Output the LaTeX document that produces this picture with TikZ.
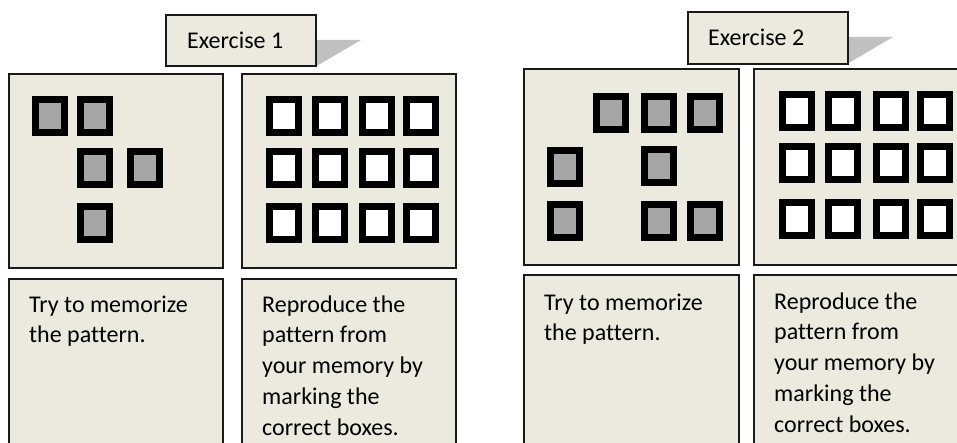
\documentclass[tikz,border=0pt]{standalone}
\usepackage{fontspec}
\setmainfont[Ligatures=NoCommon]{Carlito}
\definecolor{panelbg}{HTML}{ECE9DF}
\definecolor{cellgray}{HTML}{A6A6A6}
\definecolor{shadowgray}{HTML}{C0C0C0}
\definecolor{edge}{HTML}{1A1A1A}
\tikzset{
  panel/.style={draw=edge, line width=1.6pt, fill=panelbg, anchor=north west, inner sep=0pt},
  cellfull/.style={draw=black, line width=7pt, fill=cellgray, minimum width=29pt, minimum height=33pt, inner sep=0pt},
  cellempty/.style={draw=black, line width=7pt, fill=white, minimum width=29pt, minimum height=33pt, inner sep=0pt},
  bodytext/.style={anchor=base west, inner sep=0pt, align=left, font=\fontsize{24pt}{30.75pt}\selectfont},
  labeltext/.style={anchor=base west, inner sep=0pt, font=\fontsize{24pt}{29pt}\selectfont}
}
\begin{document}
\begin{tikzpicture}[x=1pt,y=-1pt]
\useasboundingbox (0,0) rectangle (957,443);
\clip (0,0) rectangle (957,443);
% ---------- Exercise 1 ----------
\fill[shadowgray] (315,40) -- (361,40) -- (315,67) -- cycle;
\node[panel, minimum width=150, minimum height=51] (lab1) at (165,14) {};
\node[labeltext] (lab1t) at (187,49) {Exercise 1};
\node[panel, minimum width=214, minimum height=194] (p1) at (8,73) {};
\node[panel, minimum width=214, minimum height=194] (p2) at (241,73) {};
\node[panel, minimum width=214, minimum height=190] (b1) at (8,278) {};
\node[panel, minimum width=214, minimum height=190] (b2) at (241,278) {};
% pattern 1
\node[cellfull] (a11) at (50,116) {};
\node[cellfull] (a12) at (95,116) {};
\node[cellfull] (a22) at (95,168) {};
\node[cellfull] (a23) at (145,168) {};
\node[cellfull] (a32) at (95,223) {};
% grid 1
\foreach \cx [count=\i] in {284,330,377,421}{
  \foreach \cy [count=\j] in {116,168,223}{
    \node[cellempty] (g1-\j-\i) at (\cx,\cy) {};
  }
}
% base anchor of a multi-line node is the baseline of its last line
\node[bodytext] (t1) at (29,342.75) {Try to memorize\\the pattern.};
\node[bodytext] (t2) at (262,435) {Reproduce the\\pattern from\\your memory by\\marking the\\correct boxes.};
% ---------- Exercise 2 ----------
\fill[shadowgray] (847,37) -- (893,37) -- (847,64) -- cycle;
\node[panel, minimum width=160, minimum height=52] (lab2) at (687,11) {};
\node[labeltext] (lab2t) at (708,46) {Exercise 2};
\node[panel, minimum width=215, minimum height=196] (p3) at (523,68) {};
\node[panel, minimum width=230, minimum height=196] (p4) at (753,68) {};
\node[panel, minimum width=215, minimum height=190] (b3) at (523,274) {};
\node[panel, minimum width=230, minimum height=190] (b4) at (753,274) {};
% pattern 2
\node[cellfull] (c12) at (611,113) {};
\node[cellfull] (c13) at (659,113) {};
\node[cellfull] (c14) at (705,113) {};
\node[cellfull] (c21) at (565,167) {};
\node[cellfull] (c23) at (659,166) {};
\node[cellfull] (c31) at (565,221) {};
\node[cellfull] (c33) at (659,221) {};
\node[cellfull] (c34) at (705,221) {};
% grid 2
\foreach \cx [count=\i] in {797,843,891,935}{
  \foreach \cy [count=\j] in {111,163,219}{
    \node[cellempty] (g2-\j-\i) at (\cx,\cy) {};
  }
}
\node[bodytext] (t3) at (544,340.75) {Try to memorize\\the pattern.};
\node[bodytext] (t4) at (774,432) {Reproduce the\\pattern from\\your memory by\\marking the\\correct boxes.};
\end{tikzpicture}
\end{document}
